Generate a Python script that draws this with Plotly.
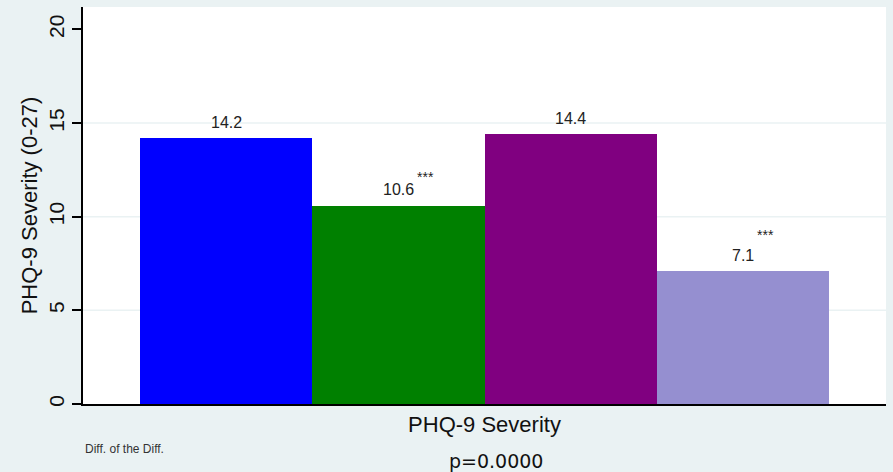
import plotly.graph_objects as go

# ---- data ----
groups = ["G1", "G2", "G3", "G4"]
values = [14.2, 10.6, 14.4, 7.1]
value_labels = ["14.2", "10.6", "14.4", "7.1"]
stars = ["", "***", "", "***"]
group_label = "PHQ-9 Severity"
y_title = "PHQ-9 Severity (0-27)"
y_ticks = [0, 5, 10, 15, 20]
note_text = "Diff. of the Diff."
p_text = "p=0.0000"

# ---- style ----
colors = ["#0000FF", "#008000", "#800080", "#958FD0"]
star_dy = [0, 15, 0, 22]
bg = "#EAF2F3"
font = "Liberation Sans, Arial, sans-serif"

xpos = list(range(len(values)))

fig = go.Figure()
fig.add_trace(go.Bar(
    x=xpos, y=values, width=1,
    marker=dict(color=colors, line=dict(width=0)),
    hoverinfo="skip", showlegend=False,
))

annotations = []
for i, (v, lab, st) in enumerate(zip(values, value_labels, stars)):
    annotations.append(dict(
        x=xpos[i], y=v, xref="x", yref="y", text=lab, showarrow=False,
        xanchor="center", yanchor="middle", yshift=16,
        font=dict(family=font, size=16, color="#222222"),
    ))
    if st:
        # half width of the number label (Arial metrics)
        w = sum(0.278 if c == "." else 0.556 for c in lab) * 16
        annotations.append(dict(
            x=xpos[i], y=v, xref="x", yref="y", text=st, showarrow=False,
            xanchor="left", yanchor="middle", xshift=w / 2 + 1,
            yshift=14 + star_dy[i],
            font=dict(family=font, size=14, color="#222222"),
        ))

annotations.append(dict(
    x=0, y=-0.113, xref="paper", yref="paper", text=note_text,
    showarrow=False, xanchor="left", yanchor="middle",
    font=dict(family=font, size=12, color="#333333"),
))
annotations.append(dict(
    x=0.514, y=-0.144, xref="paper", yref="paper", text=p_text,
    showarrow=False, xanchor="center", yanchor="middle",
    font=dict(family="DejaVu Sans, sans-serif", size=19, color="#111111"),
))

shapes = []
for t in y_ticks[1:-1]:
    shapes.append(dict(
        type="line", xref="paper", yref="y", x0=0, x1=1, y0=t, y1=t,
        line=dict(color=bg, width=1.5), layer="below",
    ))

n = len(values)
fig.update_layout(
    width=893, height=472,
    margin=dict(l=83, r=7, t=7, b=68),
    paper_bgcolor=bg, plot_bgcolor="white",
    font=dict(family=font, color="#111111"),
    annotations=annotations, shapes=shapes,
    bargap=0,
    xaxis=dict(
        range=[-0.5 - 0.334, n - 0.5 + 0.334],
        tickvals=[(n - 1) / 2], ticktext=[group_label],
        ticks="", showgrid=False, zeroline=False,
        showline=True, linecolor="black", linewidth=1.5,
        tickfont=dict(family=font, size=22, color="#111111"),
        fixedrange=True,
    ),
    yaxis=dict(
        range=[0, 21.2], tickvals=y_ticks,
        ticks="outside", ticklen=9, tickwidth=1.5, tickcolor="black",
        tickangle=-90, showgrid=False, zeroline=False,
        showline=True, linecolor="black", linewidth=1.5,
        tickfont=dict(family=font, size=21, color="#111111"),
        title=dict(text=y_title, font=dict(family=font, size=22, color="#111111"), standoff=1),
        fixedrange=True,
    ),
)

fig.write_html(
    "out.html",
    config={"displayModeBar": False},
    post_script="document.body.style.margin='0';document.body.style.overflow='hidden';",
)
